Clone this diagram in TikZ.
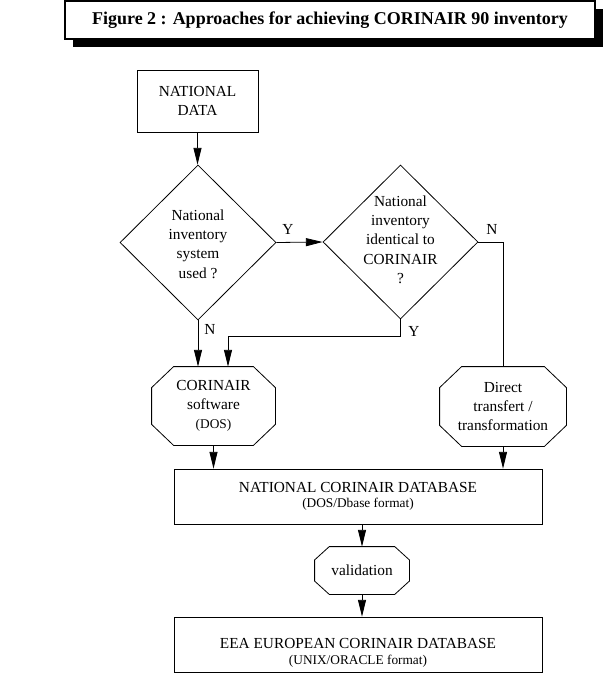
\documentclass[tikz,border=0pt]{standalone}
\usepackage{fontspec}
\setmainfont{Liberation Serif}
\usetikzlibrary{positioning, calc, arrows.meta, shapes.geometric, shadows}

\newcommand{\smallnote}[1]{{\fontsize{10}{11}\selectfont #1}}
% octagon round a named node: name, x cut, y cut
\newcommand{\cutcorners}[3]{%
  \draw ([xshift=#2]#1.north west) -- ([xshift=-#2]#1.north east) -- ([yshift=-#3]#1.north east)
    -- ([yshift=#3]#1.south east) -- ([xshift=-#2]#1.south east) -- ([xshift=#2]#1.south west)
    -- ([yshift=#3]#1.south west) -- ([yshift=-#3]#1.north west) -- cycle;}

\begin{document}
\begin{tikzpicture}[x=0.75pt, y=-0.75pt, line width=0.6pt,
  box/.style={draw, rectangle, inner sep=0pt, align=center, font=\fontsize{11.5}{14.5}\selectfont},
  decision/.style={draw, diamond, aspect=1, inner sep=0pt},
  octa/.style={rectangle, inner sep=0pt, align=center, font=\fontsize{11.5}{14.5}\selectfont},
  lbl/.style={inner sep=0pt, align=center, font=\fontsize{11.5}{14.5}\selectfont},
  arr/.style={-{Triangle[length=12.5pt, width=6pt]}}]

% Page frame
\useasboundingbox (0,0) rectangle (605,673);

% Title
\node[box, fill=white, line width=0.8pt, minimum width=397.5pt, minimum height=28.5pt,
  drop shadow={shadow xshift=6pt, shadow yshift=-6pt, fill=black, opacity=1},
  font=\bfseries\fontsize{13.5}{16}\selectfont] (title) at (330,20) {Figure 2 : Approaches for achieving CORINAIR 90 inventory};

% Boxes
\node[box, minimum width=90.75pt, minimum height=46.5pt] (data) at (197.5,101) {NATIONAL\\DATA};
\node[box, minimum width=276pt, minimum height=41.25pt] (natdb) at (358,496.5) {NATIONAL CORINAIR DATABASE\\[-3pt]\smallnote{(DOS/Dbase format)}};
\node[box, minimum width=276pt, minimum height=41.25pt] (eea) at (358,644.5) {};
\node[lbl] (eeatxt) at (358,653) {EEA EUROPEAN CORINAIR DATABASE\\[-2pt]\smallnote{(UNIX/ORACLE format)}};

% Decisions
\node[decision, minimum width=117pt, minimum height=116.25pt] (used) at (198,242.5) {};
\node[lbl] (usedtxt) at (198,244) {National\\inventory\\system\\used ?};
\node[decision, minimum width=116.25pt, minimum height=115.5pt] (ident) at (400.5,242) {};
\node[lbl] (identtxt) at (400.5,239.5) {National\\inventory\\identical to\\CORINAIR\\?};

% Octagons
\node[octa, minimum width=92.25pt, minimum height=58.5pt] (soft) at (213.5,406) {CORINAIR\\software\\\smallnote{(DOS)}};
\cutcorners{soft}{16.5pt}{15.75pt}
\node[octa, minimum width=94.5pt, minimum height=59.25pt] (direct) at (503,406.5) {Direct\\transfert /\\transformation};
\cutcorners{direct}{16.5pt}{15.75pt}
\node[octa, minimum width=70.5pt, minimum height=35.25pt] (valid) at (362,570.5) {validation};
\cutcorners{valid}{11pt}{10pt}

% Answers
\node[lbl] (yes1) at (288,229) {Y};
\node[lbl] (no1) at (492,229) {N};
\node[lbl] (no2) at (210,329) {N};
\node[lbl] (yes2) at (414,331) {Y};

% Connectors
\draw[arr] (data.south) -- (data.south |- used.north);
\draw[arr] (used.east) -- (ident.west);
\draw (ident.east) -| (direct.north);
\draw[arr] (used.south) -- (used.south |- soft.north);
\coordinate (softin) at ($(soft.north)+(14.5,0)$);
\draw[arr] (ident.south) -- ++(0,17) -| (softin);
\draw[arr] (soft.south) -- (soft.south |- natdb.north);
\draw[arr] (direct.south) -- (direct.south |- natdb.north);
\draw[arr] (natdb.south -| valid.north) -- (valid.north);
\draw[arr] (valid.south) -- (valid.south |- eea.north);

\end{tikzpicture}
\end{document}
